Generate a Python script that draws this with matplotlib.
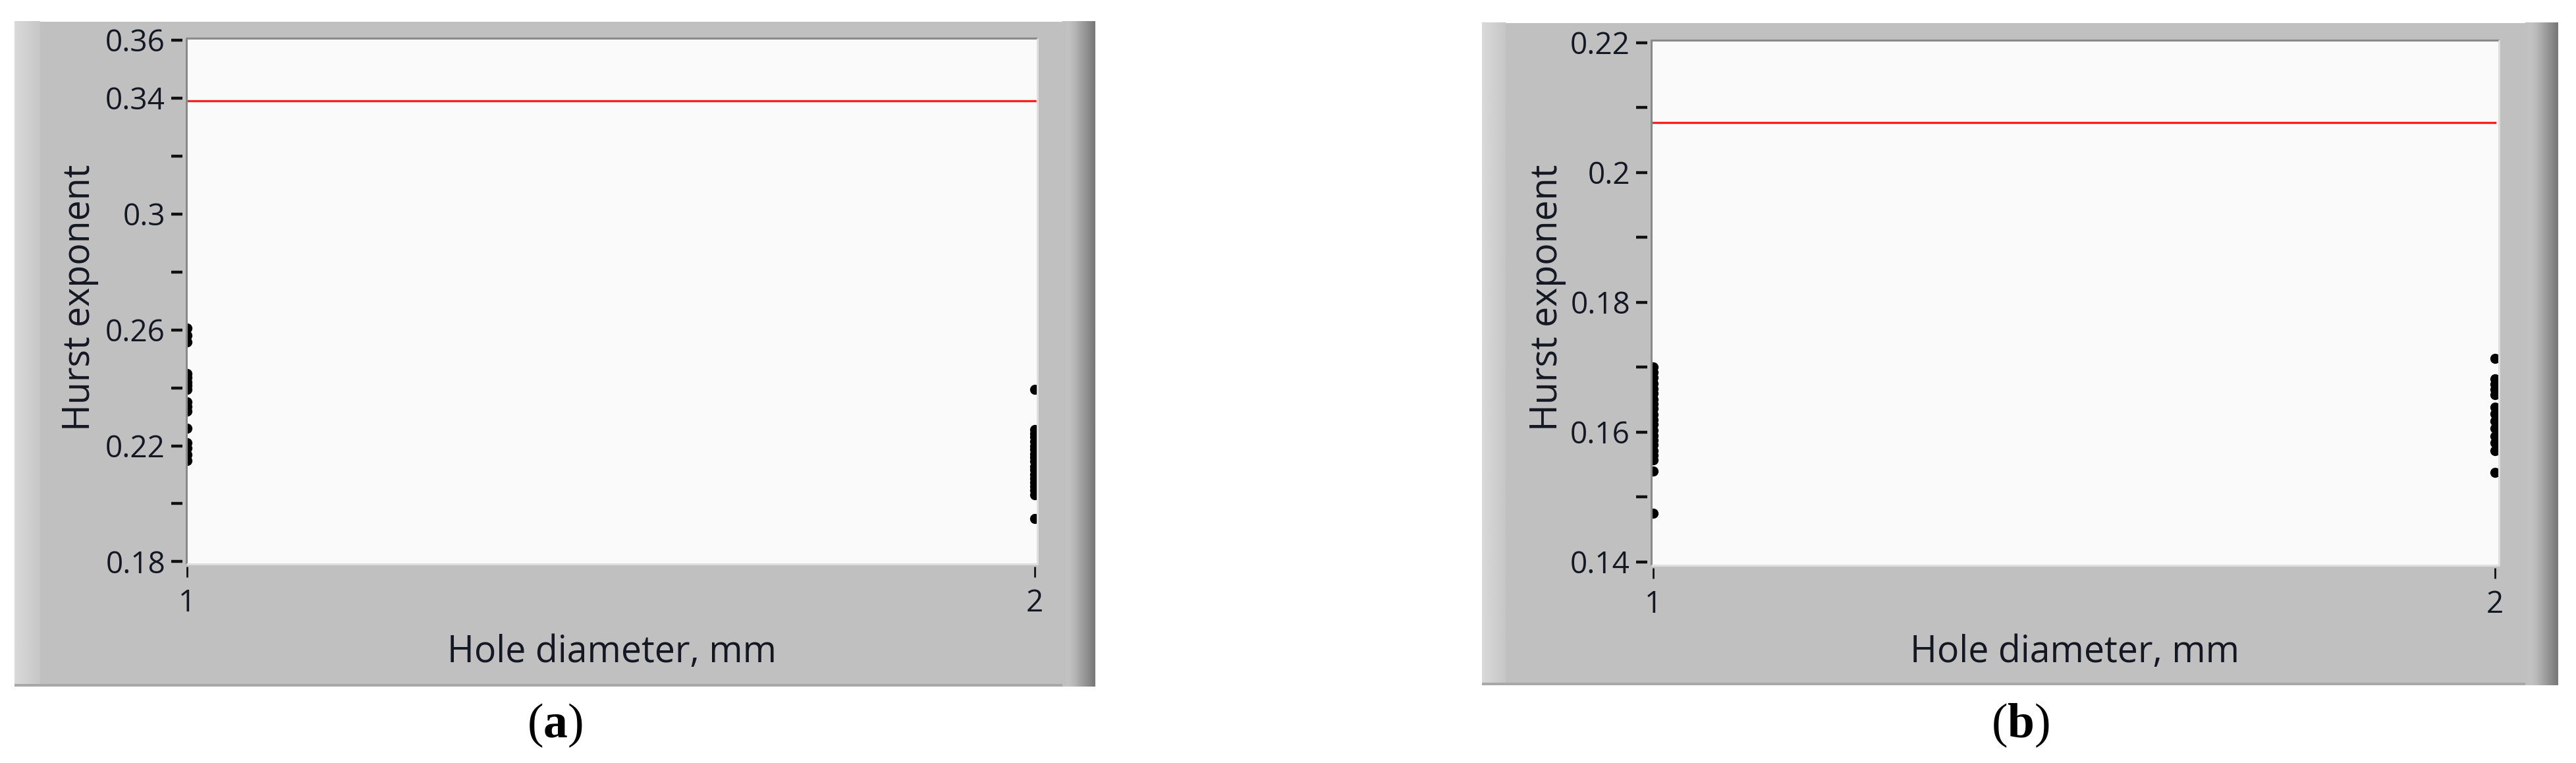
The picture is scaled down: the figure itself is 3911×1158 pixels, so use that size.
import numpy as np
import matplotlib.pyplot as plt

W, H = 3912, 1158
DPI = 100

# values
diam = [1, 2]
hurst_a_1mm = [0.2605, 0.2580, 0.2557, 0.2450, 0.2435, 0.2420, 0.2407, 0.2395,
               0.2352, 0.2336, 0.2319, 0.2261, 0.2211, 0.2192, 0.2170, 0.2149]
hurst_a_2mm = [0.2395, 0.2256, 0.2243, 0.2231, 0.2214, 0.2198, 0.2187, 0.2172,
               0.2160, 0.2147, 0.2129, 0.2116, 0.2102, 0.2088, 0.2073, 0.2061,
               0.2046, 0.2031, 0.1949]
ref_a = 0.339

hurst_b_1mm = [0.1700, 0.1692, 0.1684, 0.1675, 0.1667, 0.1660, 0.1651, 0.1643,
               0.1636, 0.1627, 0.1619, 0.1612, 0.1603, 0.1595, 0.1588, 0.1580,
               0.1571, 0.1564, 0.1557, 0.1540, 0.1475]
hurst_b_2mm = [0.1713, 0.1682, 0.1674, 0.1666, 0.1658, 0.1638, 0.1628, 0.1617,
               0.1606, 0.1594, 0.1583, 0.1571, 0.1538]
ref_b = 0.2077

yticks_a = [0.18, 0.20, 0.22, 0.24, 0.26, 0.28, 0.30, 0.32, 0.34, 0.36]
ylabels_a = ['0.18', '', '0.22', '', '0.26', '', '0.3', '', '0.34', '0.36']
yticks_b = [0.14, 0.15, 0.16, 0.17, 0.18, 0.19, 0.20, 0.21, 0.22]
ylabels_b = ['0.14', '', '0.16', '', '0.18', '', '0.2', '', '0.22']
xlabels = ['1', '2']

plt.rcParams['font.family'] = ['Open Sans', 'DejaVu Sans']
plt.rcParams['mathtext.fontset'] = 'custom'
plt.rcParams['mathtext.rm'] = 'Liberation Serif'
plt.rcParams['mathtext.bf'] = 'Liberation Serif:bold'

TXT = '#141822'

fig = plt.figure(figsize=(W / DPI, H / DPI), dpi=DPI)
fig.patch.set_facecolor('white')

# background axes in pixel coordinates for the grey LabVIEW frames
bg = fig.add_axes([0, 0, 1, 1])
bg.axis('off')


def fx(x):
    return x / W


def fy(y):
    return 1 - y / H


def draw_frame(x0, x1, y0, y1, strip):
    bg.add_patch(plt.Rectangle((x0, y0), x1 - x0, y1 - y0, fc='#c0c0c0', ec='none', zorder=1))
    # light strip on the left
    left = np.linspace(0.85, 0.78, 20).reshape(1, -1)
    bg.imshow(left, cmap='gray', vmin=0, vmax=1, aspect='auto', zorder=2,
              extent=(x0, x0 + strip, y1 - 4, y0), interpolation='bilinear')
    # darker bevel on the right
    right = np.array([0.75, 0.76, 0.75, 0.72, 0.68, 0.64, 0.60, 0.56, 0.52, 0.48]).reshape(1, -1)
    bg.imshow(right, cmap='gray', vmin=0, vmax=1, aspect='auto', zorder=2,
              extent=(x1 - 50, x1, y1, y0), interpolation='bilinear')
    bg.add_patch(plt.Rectangle((x0, y1 - 4), x1 - x0 - 50, 4, fc='#a8a8a8', ec='none', zorder=3))


draw_frame(22, 1663, 32.5, 1042, 39)
draw_frame(2250, 3883.5, 34.5, 1040, 36)
bg.set_xlim(0, W)
bg.set_ylim(H, 0)


def make_graph(px0, px1, py0, py1, xlim, ylim, yticks, ylabels, v1, v2, ref):
    ax = fig.add_axes([fx(px0), fy(py1), (px1 - px0) / W, (py1 - py0) / H])
    ax.set_facecolor('#fafafa')
    for s in ['top', 'right']:
        ax.spines[s].set_visible(False)
    ax.spines['left'].set_position(('outward', 4.3))
    ax.spines['bottom'].set_position(('outward', 2.9))
    ax.spines['left'].set_visible(False)
    ax.spines['bottom'].set_visible(False)

    # inset border of the plot area
    ax.plot([0, 0, 1], [0, 1, 1], transform=ax.transAxes, color='#8a8a8a',
            lw=2.2, clip_on=False, zorder=5, solid_capstyle='butt')
    ax.plot([1, 1, 0], [1, 0, 0], transform=ax.transAxes, color='#dedede',
            lw=2.2, clip_on=False, zorder=5, solid_capstyle='butt')

    ax.plot(diam, [ref, ref], color='#ff1f1f', lw=2.4, zorder=3)
    ax.plot(np.full(len(v1), diam[0]), v1, 'o', color='black', ms=11, mew=0, zorder=4)
    ax.plot(np.full(len(v2), diam[1]), v2, 'o', color='black', ms=11, mew=0, zorder=4)

    ax.set_xlim(*xlim)
    ax.set_ylim(*ylim)
    ax.set_xticks(diam)
    ax.set_xticklabels(xlabels)
    ax.set_yticks(yticks)
    ax.set_yticklabels(ylabels)
    ax.tick_params(axis='y', length=12.2, width=3.2, pad=6.5, labelsize=33,
                   color='#111111', labelcolor=TXT)
    ax.tick_params(axis='x', length=11.5, width=2.0, pad=12, labelsize=33,
                   color='#111111', labelcolor=TXT)
    return ax


make_graph(283, 1575.5, 58, 856, (1 - 0.0008, 2 + 0.0035), (0.1792, 0.3606),
           yticks_a, ylabels_a, hurst_a_1mm, hurst_a_2mm, ref_a)
make_graph(2507, 3794, 61, 858, (1 - 0.0023, 2 + 0.0047), (0.13946, 0.2204),
           yticks_b, ylabels_b, hurst_b_1mm, hurst_b_2mm, ref_b)

# axis titles and panel captions
for cx, lx in [(929, 122), (3150, 2350)]:
    fig.text(fx(lx), fy(452), 'Hurst exponent', rotation=90, ha='center', va='center',
             fontsize=40, color=TXT)
    fig.text(fx(cx), fy(990), 'Hole diameter, mm', ha='center', va='center',
             fontsize=40, color=TXT)

fig.text(fx(842), fy(1100), r'$\mathrm{(}\mathbf{a}\mathrm{)}$', ha='center', va='center',
         fontsize=53, color='black')
fig.text(fx(3067), fy(1100), r'$\mathrm{(}\mathbf{b}\mathrm{)}$', ha='center', va='center',
         fontsize=53, color='black')

fig.savefig('out.png', dpi=DPI)
